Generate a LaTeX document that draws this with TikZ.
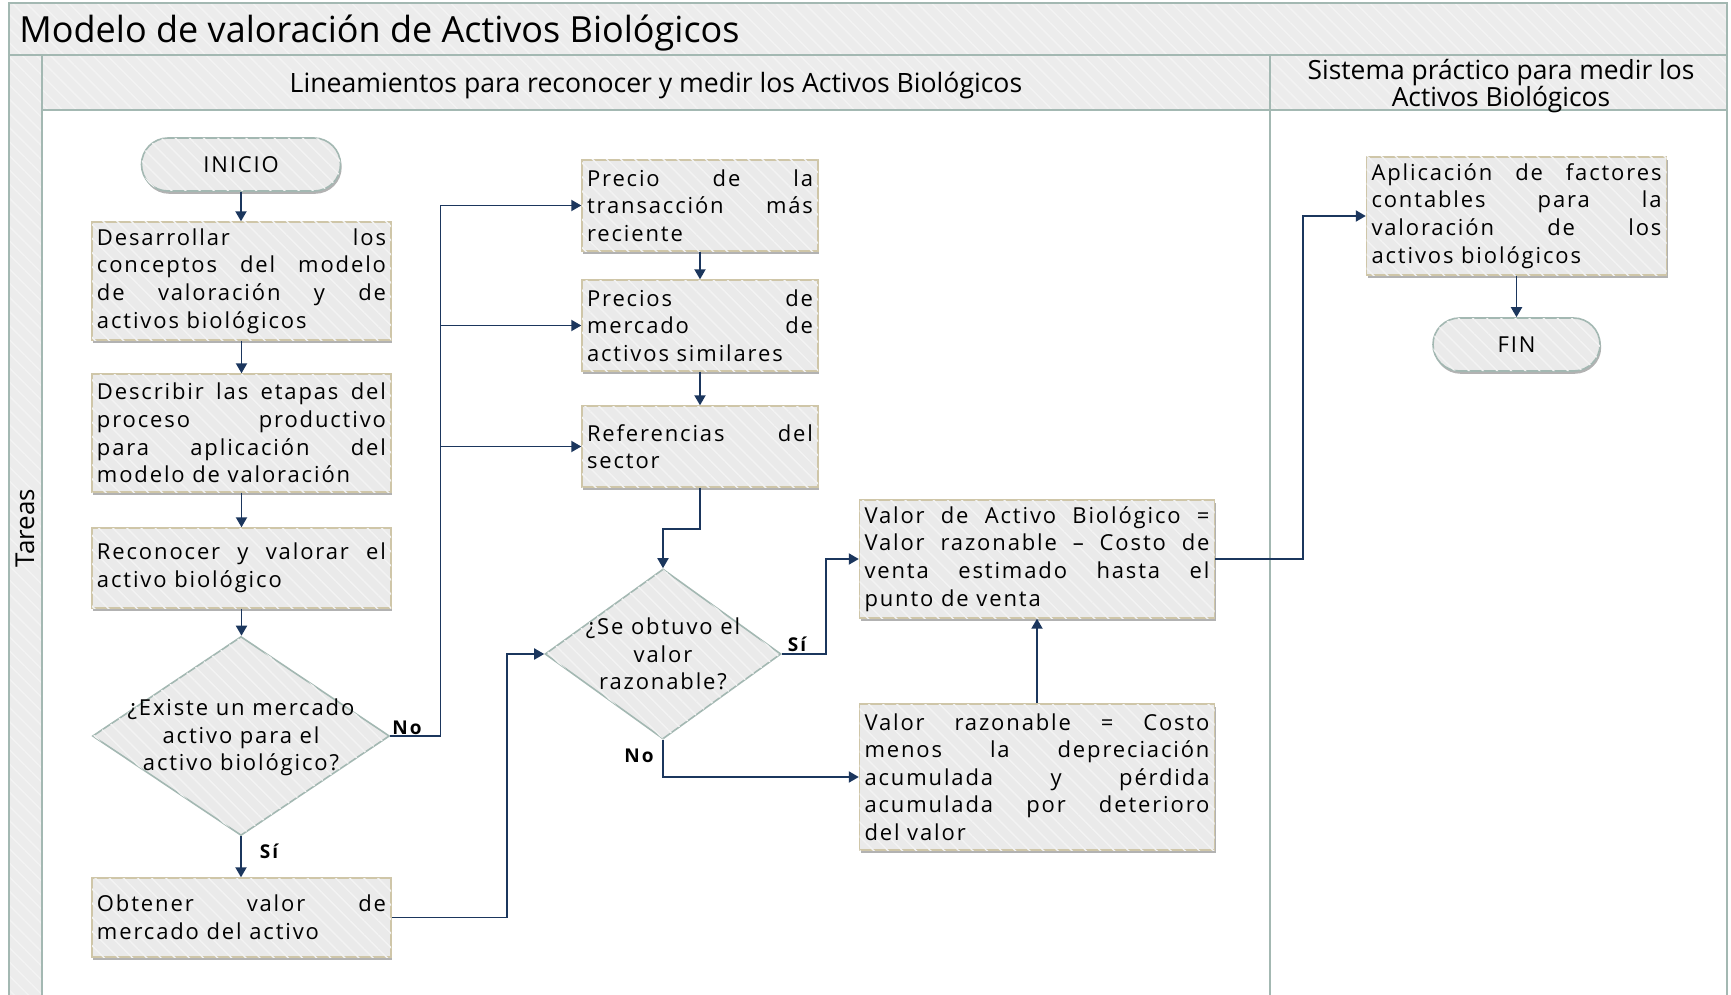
\documentclass[tikz,border=0pt]{standalone}
\usepackage{fontspec}
\setmainfont{Open Sans}
\newfontfamily\spfont[LetterSpace=8.5]{Open Sans}
\newfontfamily\lblfont[LetterSpace=10]{Open Sans}
\usetikzlibrary{arrows.meta,shapes.geometric,shadows,patterns.meta,calc}

\definecolor{navy}{HTML}{1B365D}
\definecolor{lane}{HTML}{A3B8B2}
\definecolor{boxfill}{HTML}{EAEAEA}
\definecolor{boxline}{HTML}{CFC6A8}
\definecolor{hdrfill}{HTML}{ECECEC}
\definecolor{stripe}{HTML}{F3F3F3}

\newcommand{\nl}{\linebreak}

\tikzset{
  x=0.5pt, y=-0.5pt,
  hatch/.style={postaction={pattern={Lines[angle=-45,distance=5pt,line width=0.7pt]},pattern color=stripe}},
  shd/.style={drop shadow={shadow xshift=0.6pt,shadow yshift=-1.4pt,opacity=0.3,fill=black}},
  txt/.style={font=\spfont\fontsize{11}{13.8}\selectfont},
  box/.style={rectangle, draw=boxline, line width=0.7pt, fill=boxfill, hatch, shd,
    inner xsep=2.5pt, inner ysep=0pt, align=justify, txt},
  term/.style={rectangle, rounded corners=13.25pt, draw=lane, line width=0.8pt, fill=boxfill, hatch, shd,
    minimum height=26.5pt, inner sep=0pt, txt},
  dia/.style={diamond, draw=lane, line width=0.8pt, fill=boxfill, hatch, inner sep=0pt},
  diatext/.style={align=center, txt, inner sep=0pt},
  arr/.style={draw=navy, line width=0.95pt, -{Triangle[length=5pt,width=5.5pt]}},
  lbl/.style={font=\lblfont\fontsize{9.5}{11}\selectfont\bfseries, inner sep=0pt},
  laneline/.style={draw=lane, line width=1pt},
  hdr/.style={fill=hdrfill, hatch},
}

\begin{document}
\begin{tikzpicture}
\useasboundingbox[fill=white] (0,0) rectangle (1731,995);

% lanes frame
\path[hdr] (9,3) rectangle (1727,55);
\path[hdr] (42,55) rectangle (1727,110);
\path[hdr] (9,55) rectangle (42,1000);
\draw[laneline] (9,1000) -- (9,3) -- (1727,3) -- (1727,1000);
\draw[laneline] (9,55) -- (1727,55);
\draw[laneline] (42,110) -- (1727,110);
\draw[laneline] (42,55) -- (42,1000);
\draw[laneline] (1270,55) -- (1270,1000);

\node[anchor=west, inner sep=0pt, font=\fontsize{18}{20}\selectfont] (title) at (19,33) {Modelo de valoración de Activos Biológicos};
\node[font=\fontsize{13.3}{14}\selectfont, inner sep=0pt] (h1) at (656,86) {Lineamientos para reconocer y medir los Activos Biológicos};
\node[font=\fontsize{13.2}{13.8}\selectfont, inner sep=0pt, align=center] (h2) at (1501,86) {Sistema práctico para medir los\\Activos Biológicos};
\node[rotate=90, font=\fontsize{13}{14}\selectfont, inner sep=0pt] (tareas) at (25,528) {Tareas};

% nodes
\node[term, minimum width=99.5pt] (ini) at (241,164.5) {INICIO};
\node[box, text width=144.5pt, minimum height=59pt] (b1) at (241.5,281)
  {Desarrollar los\nl conceptos del modelo\nl de valoración y de\nl activos biológicos};
\node[box, text width=144.5pt, minimum height=59pt] (b2) at (241.5,433)
  {Describir las etapas del\nl proceso productivo\nl para aplicación del\nl modelo de valoración};
\node[box, text width=144.5pt, minimum height=40pt] (b3) at (241.5,568)
  {Reconocer y valorar el\nl activo biológico};
\node[dia, minimum width=148.5pt, minimum height=99.5pt] (d1) at (241,736) {};
\node[diatext] (d1t) at (241,737.5) {¿Existe un mercado\\activo para el\\activo biológico?};
\node[box, text width=144.5pt, minimum height=39.5pt] (b4) at (241.5,917.5)
  {Obtener valor de\nl mercado del activo};

\node[box, text width=113pt, minimum height=45.5pt] (b5) at (700,205.5)
  {Precio de la\nl transacción más\nl reciente};
\node[box, text width=113pt, minimum height=45.5pt] (b6) at (700,325.5)
  {Precios de\nl mercado de\nl activos similares};
\node[box, text width=113pt, minimum height=40.5pt] (b7) at (700,446.5)
  {Referencias del\nl sector};
\node[dia, minimum width=118pt, minimum height=85pt] (d2) at (663,654) {};
\node[diatext] (d2t) at (663,654) {¿Se obtuvo el\\valor\\razonable?};

\node[box, text width=172.5pt, minimum height=59pt] (b8) at (1037,559)
  {Valor de Activo Biológico =\nl Valor razonable – Costo de\nl venta estimado hasta el\nl punto de venta};
\node[box, text width=172.5pt, minimum height=73pt] (b9) at (1037,777)
  {Valor razonable = Costo\nl menos la depreciación\nl acumulada y pérdida\nl acumulada por deterioro\nl del valor};

\node[box, text width=145pt, minimum height=59pt] (b10) at (1516.5,216)
  {Aplicación de factores\nl contables para la\nl valoración de los\nl activos biológicos};
\node[term, minimum width=83.5pt] (fin) at (1516.5,344.5) {FIN};

% helper coordinates
\coordinate (nx) at (440.5,0);
\coordinate (ox) at (507,0);
\coordinate (sy) at (0,529);
\coordinate (sx) at (826,0);
\coordinate (ax) at (1303,0);

% connectors
\draw[arr] (ini) -- (ini |- b1.north);
\draw[arr] (b1) -- (b1 |- b2.north);
\draw[arr] (b2) -- (b2 |- b3.north);
\draw[arr] (b3) -- (b3 |- d1.north);
\draw[arr] (d1.south) -- (d1 |- b4.north);
\draw[arr] (d1.east) -| (nx |- b5.west) -- (b5.west);
\draw[arr] (nx |- b6.west) -- (b6.west);
\draw[arr] (nx |- b7.west) -- (b7.west);
\draw[arr] (b4.east) -| (ox |- d2.west) -- (d2.west);
\draw[arr] (b5) -- (b5 |- b6.north);
\draw[arr] (b6) -- (b6 |- b7.north);
\draw[arr] (b7.south) -- (b7.south |- sy) -| (d2.north);
\draw[arr] (d2.east) -| (sx |- b8.west) -- (b8.west);
\draw[arr] (d2.south) |- (b9.west);
\draw[arr] (b9.north) -- (b8.south);
\draw[arr] (b8.east) -| (ax |- b10.west) -- (b10.west);
\draw[arr] (b10) -- (b10 |- fin.north);

% labels
\node[lbl] (l1) at (407,728) {No};
\node[lbl] (l2) at (269,851) {Sí};
\node[lbl] (l3) at (797,644) {Sí};
\node[lbl] (l4) at (639,756) {No};
\end{tikzpicture}
\end{document}
